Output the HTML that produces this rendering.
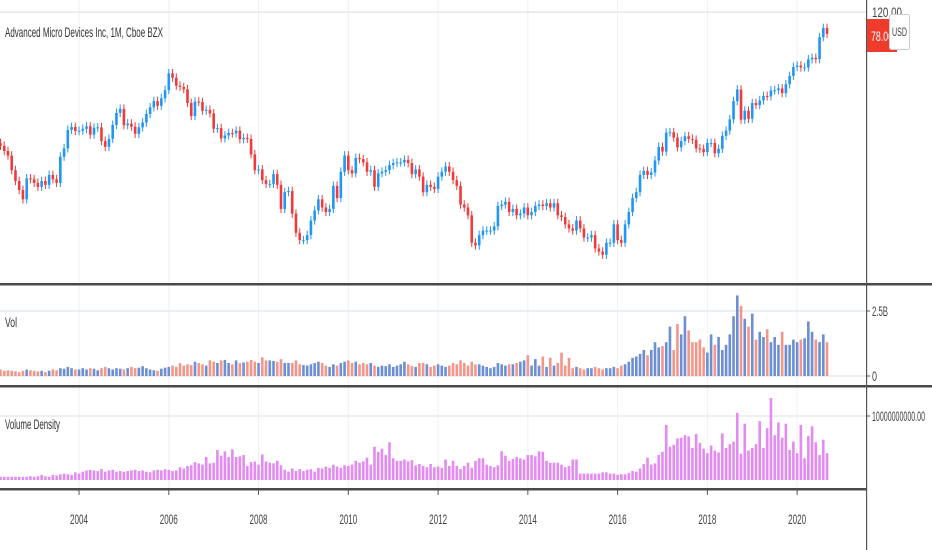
<!DOCTYPE html>
<html><head><meta charset="utf-8"><style>
html,body{margin:0;padding:0;background:#fff;}
svg{display:block;font-family:"Liberation Sans",sans-serif;}
</style></head><body>
<svg id="chart" width="932" height="550">
  <g id="grid"></g>
  <g id="candles"></g>
  <g id="vol"></g>
  <g id="dens"></g>
  <g id="frame">
    <rect x="0" y="283" width="932" height="2.5" fill="#4a4a4a"/>
    <rect x="0" y="385" width="932" height="2.5" fill="#4a4a4a"/>
    <rect x="0" y="488" width="867" height="2.5" fill="#4a4a4a"/>
    <rect x="866" y="0" width="1.2" height="550" fill="#555"/>
  </g>
  <text x="5" y="37" font-size="14" fill="#333" textLength="158" lengthAdjust="spacingAndGlyphs">Advanced Micro Devices Inc, 1M, Cboe BZX</text>
  <text x="5" y="327" font-size="14" fill="#333" textLength="12" lengthAdjust="spacingAndGlyphs">Vol</text>
  <text x="5" y="429" font-size="14" fill="#333" textLength="55" lengthAdjust="spacingAndGlyphs">Volume Density</text>
  <text x="872" y="17" font-size="14" fill="#444" textLength="30" lengthAdjust="spacingAndGlyphs">120.00</text>
  <rect x="867" y="19" width="30" height="33" fill="#ef3b2c"/>
  <text x="871" y="41" font-size="14" fill="#fff" textLength="22" lengthAdjust="spacingAndGlyphs">78.06</text>
  <rect x="889.5" y="14.5" width="20" height="35" rx="2" fill="#fff" stroke="#ccc"/>
  <text x="892" y="36" font-size="12" fill="#444" textLength="15" lengthAdjust="spacingAndGlyphs">USD</text>
  <g id="rticks"></g>
  <g id="xlabels"></g>
</svg>
<script>
const closes=[11.5,10.5,9.7,7.5,6.2,5.3,4.5,6.5,6.4,
6.0,5.6,6.2,5.8,6.9,6.4,6.0,9.5,11.0,15.2,16.0,14.9,
15.0,15.5,16.2,14.0,15.8,15.9,12.5,11.3,13.0,16.6,20.5,22.0,
16.5,17.0,16.1,14.2,15.9,17.3,20.1,22.6,25.2,23.2,26.5,30.6,
41,38,33,32.3,31,24.4,19.4,25,24.8,21.3,21.6,20.3,
15.5,15.7,13.1,13.8,14.4,14.3,15.0,12.9,13.2,13.0,9.9,7.5,
7.6,6.3,5.9,5.9,7.0,5.8,3.8,5.1,5.2,3.5,2.5,2.2,
2.2,2.4,3.1,3.7,4.5,3.9,3.6,3.8,5.7,4.6,7.3,9.7,
7.5,7.1,9.3,9.1,8.6,7.3,7.5,5.6,7.1,7.3,7.5,8.2,
8.5,8.6,8.6,9.0,8.5,7.0,7.6,6.7,5.1,5.8,5.6,5.4,
6.7,7.3,8.0,7.3,6.3,5.7,4.1,3.9,3.4,2.1,2.0,2.4,
2.6,2.6,2.6,2.8,4.0,4.1,4.3,3.6,3.8,3.4,3.5,3.9,
3.4,3.6,4.0,4.1,4.0,4.2,3.9,4.2,3.4,3.3,2.9,2.7,
2.6,3.1,2.7,2.3,2.3,2.4,1.9,1.8,1.7,2.1,2.1,2.9,
2.2,2.1,2.9,3.6,4.6,5.1,6.9,7.4,6.9,7.2,8.9,11.3,
10.4,14.5,14.6,13.3,11.2,12.5,13.6,13.0,12.8,11.0,10.9,10.3,
12.1,12.1,10.1,10.9,13.7,15.0,18.3,25.2,30.9,18.2,21.3,18.5,
24.4,23.5,25.5,27.6,27.4,30.4,30.5,31.5,29.0,33.9,39.2,45.9,
47,45.5,45.5,52.4,53.8,52.6,77.4,90.8,82.0];
const volumesB=[.25,.2,.22,.2,.18,.15,.2,.25,.22,
.2,.18,.2,.15,.2,.25,.22,.3,.28,.35,.3,.25,
.25,.3,.25,.3,.28,.22,.3,.35,.3,.25,.3,.28,
.25,.3,.35,.3,.32,.38,.3,.25,.22,.2,.28,.32,
.35,.4,.35,.5,.4,.45,.42,.55,.5,.45,.4,.6,
.55,.5,.6,.62,.5,.45,.6,.5,.52,.55,.62,.55,
.5,.72,.6,.6,.58,.55,.65,.5,.5,.5,.6,.45,
.42,.4,.45,.5,.55,.5,.4,.35,.45,.4,.5,.55,
.6,.5,.55,.45,.5,.45,.5,.4,.35,.4,.38,.45,
.35,.4,.45,.55,.45,.38,.35,.5,.5,.45,.35,.4,
.45,.4,.35,.4,.5,.45,.6,.5,.4,.55,.45,.45,
.4,.35,.3,.35,.5,.45,.4,.45,.45,.5,.55,.6,
.8,.4,.65,.4,.75,.35,.7,.4,.5,.9,.4,.7,
.3,.35,.3,.25,.3,.3,.35,.3,.25,.3,.3,.35,
.3,.4,.45,.55,.7,.75,.85,1.0,.8,1.0,1.3,1.1,
1.15,1.3,1.9,1.0,2.0,1.6,2.3,1.75,1.3,1.3,1.4,1.1,
.9,1.6,1.2,1.5,1.0,1.2,1.6,2.3,3.1,2.7,2.2,1.9,
2.4,1.4,1.7,1.5,1.8,1.3,1.5,1.2,1.7,1.2,1.2,1.4,
1.3,1.4,1.45,2.1,1.7,1.4,1.3,1.6,1.3];
const densityE9=[.5,.5,.5,.5,.5,.5,.5,.5,.6,
.5,.6,.8,.6,.5,.8,.7,.9,1.0,.9,.8,1.2,
1.0,1.3,1.5,1.6,1.5,1.4,1.7,1.3,1.5,1.6,1.3,1.4,
1.3,1.4,1.5,1.6,1.4,1.5,1.3,1.2,1.5,1.6,1.5,1.7,
1.6,1.4,1.5,2.0,1.8,2.2,2.3,2.8,2.6,2.4,3.6,2.6,
2.7,4.7,3.8,4.5,3.6,4.8,3.6,3.7,3.9,2.2,2.8,2.9,
2.4,4.0,2.9,2.7,2.6,3.0,2.3,1.6,1.3,1.8,1.4,1.7,
1.4,1.6,1.7,1.3,1.9,1.8,2.1,1.9,2.4,2.1,1.9,2.3,
2.2,2.4,3.0,2.7,2.9,3.5,2.4,5.2,4.4,4.9,3.9,5.9,
3.4,3.0,3.0,3.2,2.9,3.1,2.3,2.5,2.2,2.0,2.5,2.0,
2.1,1.9,3.2,2.2,3.0,2.2,1.7,2.2,2.7,1.9,3.0,3.4,
3.4,2.4,2.2,2.0,2.3,4.5,3.8,3.0,3.3,3.6,3.4,3.2,
3.9,3.9,3.7,4.5,4.4,3.0,2.7,2.7,2.7,2.4,2.0,2.2,
3.2,3.2,1.0,1.0,1.0,1.0,1.0,1.0,1.2,1.2,1.0,1.0,
.8,.9,.9,1.1,1.4,1.3,1.8,2.5,3.5,2.4,2.6,3.9,
4.4,8.6,5.2,5.5,6.5,6.6,7.0,6.8,5.0,7.2,5.8,4.9,
4.2,5.4,4.6,4.3,7.3,5.0,5.6,6.0,10.5,4.1,8.8,4.6,
5.0,5.6,9.2,5.0,8.1,12.8,7.0,9.0,6.6,8.8,4.7,6.0,
4.2,8.6,3.4,6.9,8.4,5.9,3.9,6.3,4.2];
const yearLabels=["2004","2006","2008","2010","2012","2014","2016","2018","2020"];
const startYear=2002, startMonth=3;

const NS="http://www.w3.org/2000/svg";
const STEP=3.74, X0=0.5;
function xScale(i){return X0+i*STEP;}
function xYear(y){return xScale((y-startYear)*12-startMonth);}
function yPrice(p){return 72-57*Math.log(p/42);}
function yVol(b){return 376-26*b;}
function yDens(d){return 480-6.4*d;}
function mk(tag,attrs,parent){const e=document.createElementNS(NS,tag);for(const k in attrs)e.setAttribute(k,attrs[k]);parent.appendChild(e);return e;}

const grid=document.getElementById('grid');
yearLabels.forEach(function(lbl){
  const x=xYear(+lbl);
  const l=mk('line',{x1:x,x2:x,y1:0,y2:488,stroke:'#eef0f3','stroke-width':1},grid);
  
  
  const xl=document.getElementById('xlabels');
  const t=mk('line',{x1:x,x2:x,y1:490,y2:495,stroke:'#555'},xl);
  
  
  const tx=mk('text',{x:x-9,y:524,'font-size':14,fill:'#444',textLength:18,lengthAdjust:'spacingAndGlyphs'},xl);
  tx.textContent=lbl;
  
  
});
[[yPrice(120),'#e4e7eb'],[yVol(2.5),'#e3ecef'],[yVol(0),'#e3ecef'],[yDens(10),'#e3ecef']].forEach(function(g){
  const l=mk('line',{x1:0,x2:866,y1:g[0],y2:g[0],stroke:g[1],'stroke-width':1.5},grid);
  
  
});
const rt=document.getElementById('rticks');
[[yVol(2.5),'2.5B',16],[yVol(0),'0',5],[yDens(10),'10000000000.00',53]].forEach(function(r){
  const tk=mk('line',{x1:867,x2:870,y1:r[0],y2:r[0],stroke:'#555'},rt);
  
  
  const t=mk('text',{x:872,y:r[0]+5,'font-size':14,fill:'#444',textLength:r[2],lengthAdjust:'spacingAndGlyphs'},rt);
  t.textContent=r[1];
  
  
});

const cg=document.getElementById('candles'), vg=document.getElementById('vol'), dg=document.getElementById('dens');
closes.forEach(function(c,i){
  const o=i>0?closes[i-1]:c*1.05;
  const up=c>=o;
  const col=up?'#2196f3':'#ef3b3b';
  const hi=Math.max(o,c)*1.08, lo=Math.min(o,c)*0.93;
  const x=xScale(i);
  const w=mk('line',{x1:x,x2:x,y1:yPrice(hi),y2:yPrice(lo),stroke:col,'stroke-width':1},cg);
  
  
  const yt=yPrice(Math.max(o,c)), yb=yPrice(Math.min(o,c));
  const b=mk('rect',{x:x-1.3,y:yt,width:2.6,height:Math.max(1,yb-yt),fill:col},cg);
  
  
  const v=volumesB[i];
  const vb=mk('rect',{x:x-1.3,y:yVol(v),width:2.6,height:yVol(0)-yVol(v),fill:up?'#6c8fd4':'#f3968a'},vg);
  
  
  const d=densityE9[i];
  const db=mk('rect',{x:x-1.3,y:yDens(d),width:2.6,height:yDens(0)-yDens(d),fill:'#e38bf2'},dg);
  
  
});
</script>
</body></html>
